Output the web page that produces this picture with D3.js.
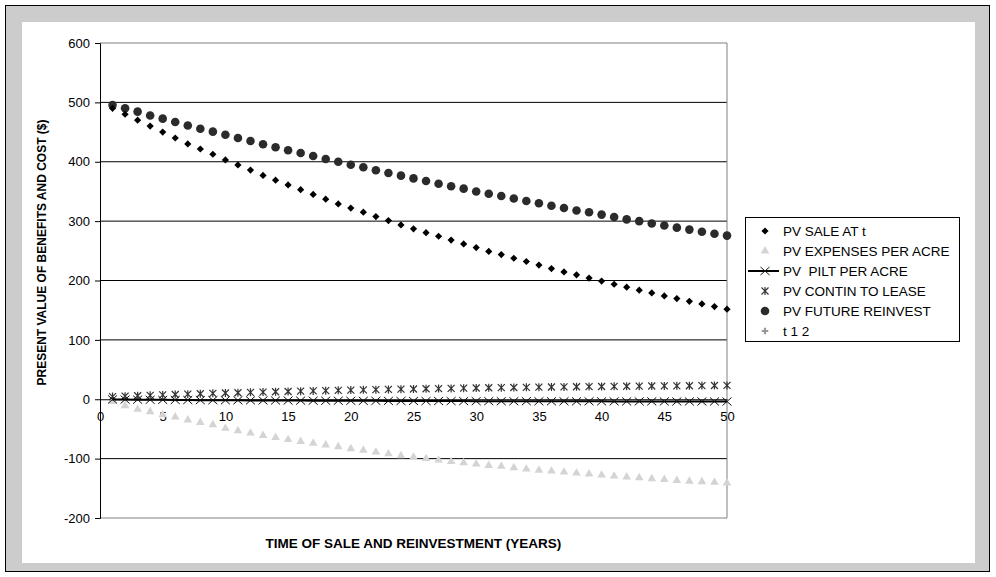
<!DOCTYPE html>
<html>
<head>
<meta charset="utf-8">
<script src="https://cdnjs.cloudflare.com/ajax/libs/d3/7.8.5/d3.min.js"></script>
<style>
  html, body { margin: 0; padding: 0; background: #fff; }
  svg { display: block; }
  text { font-family: "Liberation Sans", Arial, sans-serif; }
</style>
</head>
<body>
<svg id="chart" width="996" height="577"></svg>
<script>
// Years of sale / reinvestment
const years = d3.range(1, 51);

// Present value series ($ per acre)
const pvSale = [490, 480, 470, 460, 450, 440, 430, 421.5, 412.6, 403,
  394.6, 386, 377, 369, 361, 353, 345, 337, 329, 322,
  315, 307.6, 301, 293.6, 287, 280.6, 274.5, 268, 261.6, 255.5,
  249, 243.6, 237.5, 232, 226, 220, 214.5, 209.5, 204, 199,
  193.7, 188.7, 183.7, 179, 174, 169.5, 165, 160.6, 156, 151.7];

const pvExpenses = [-4, -11, -17, -21, -26, -30, -35, -39, -43, -49,
  -53, -57, -61, -64.5, -68, -71, -74, -77, -80, -83.5,
  -86, -89, -92, -95, -97.5, -100, -102.5, -105, -107, -109,
  -111.5, -113, -115.5, -117.7, -119.4, -121, -122.7, -124.4, -126, -127.8,
  -129.5, -131, -132.3, -134, -135, -136.8, -138, -139, -140, -141];

const pvPilt = [-0.3, -0.5, -0.7, -0.9, -1.0, -1.2, -1.3, -1.5, -1.6, -1.7,
  -1.8, -1.9, -2.0, -2.1, -2.2, -2.3, -2.4, -2.5, -2.5, -2.6,
  -2.7, -2.7, -2.8, -2.9, -2.9, -3.0, -3.0, -3.1, -3.1, -3.2,
  -3.2, -3.3, -3.3, -3.3, -3.4, -3.4, -3.4, -3.5, -3.5, -3.5,
  -3.6, -3.6, -3.6, -3.6, -3.7, -3.7, -3.7, -3.7, -3.8, -3.8];

const pvContin = [4.5, 5.2, 5.9, 6.6, 7.3, 8.0, 8.6, 9.3, 9.9, 10.5,
  11.0, 11.6, 12.1, 12.6, 13.1, 13.6, 14.1, 14.5, 15.0, 15.4,
  15.8, 16.2, 16.6, 17.0, 17.3, 17.7, 18.0, 18.3, 18.7, 19.0,
  19.3, 19.5, 19.8, 20.1, 20.3, 20.6, 20.8, 21.0, 21.3, 21.5,
  21.7, 21.9, 22.1, 22.3, 22.5, 22.6, 22.8, 23.0, 23.1, 23.3];

const pvFuture = [495.6, 490, 484.4, 478, 472.6, 467, 461, 455.7, 450.7, 445.6,
  440, 435, 429.5, 424.4, 419.4, 414.8, 409.8, 404.7, 400, 395,
  390.7, 385.6, 381, 376.6, 372, 367.7, 363, 358.7, 354.7, 350,
  346, 342.4, 338, 334, 330, 326, 322, 318, 315, 311,
  307, 303, 300, 296, 292.6, 289, 285.7, 282, 278.7, 275.6];

const seriesNames = ["PV SALE AT t", "PV EXPENSES PER ACRE", "PV  PILT PER ACRE",
  "PV CONTIN TO LEASE", "PV FUTURE REINVEST", "t 1 2"];

const xTicks = d3.range(0, 51, 5);
const yTicks = d3.range(-200, 601, 100);

const svg = d3.select("#chart");

// Outer frame and white chart area
svg.append("rect").attr("x", 5.5).attr("y", 5.5).attr("width", 984).attr("height", 566)
  .attr("fill", "#cccccc").attr("stroke", "#000").attr("stroke-width", 1);
svg.append("rect").attr("x", 22).attr("y", 22).attr("width", 953).attr("height", 541)
  .attr("fill", "#fff");

const plot = { left: 100, right: 727, top: 43, bottom: 518 };
const x = d3.scaleLinear().domain([0, 50]).range([plot.left, plot.right]);
const y = d3.scaleLinear().domain([-200, 600]).range([plot.bottom, plot.top]);

// Horizontal gridlines
svg.append("g").selectAll("line").data(yTicks.filter(v => v !== 0 && v !== 600 && v !== -200))
  .join("line")
  .attr("x1", plot.left).attr("x2", plot.right)
  .attr("y1", d => y(d)).attr("y2", d => y(d))
  .attr("stroke", "#000").attr("stroke-width", 1);

// Plot border (top, right, bottom)
svg.append("path")
  .attr("d", `M${plot.left},${y(600)}H${plot.right}V${y(-200)}H${plot.left}`)
  .attr("fill", "none").attr("stroke", "#808080").attr("stroke-width", 1);

const fontFam = "'Liberation Sans', Arial, sans-serif";

// Y axis
const yAxis = d3.axisLeft(y).tickValues(yTicks).tickSize(5).tickPadding(5)
  .tickFormat(d => String(d));
const gy = svg.append("g").attr("transform", `translate(${plot.left},0)`).call(yAxis);
gy.select(".domain").attr("stroke", "#000");
gy.selectAll(".tick line").attr("stroke", "#000");
gy.selectAll("text").attr("font-size", 13).attr("fill", "#000").attr("font-family", fontFam);

// X axis sits at zero
const xAxis = d3.axisBottom(x).tickValues(xTicks).tickSize(0).tickPadding(13)
  .tickFormat(d => String(d));
const gx = svg.append("g").attr("transform", `translate(0,${y(0)})`).call(xAxis);
gx.select(".domain").attr("stroke", "#000");
gx.selectAll("text").attr("font-size", 13).attr("fill", "#000").attr("font-family", fontFam);

// Axis titles
svg.append("text")
  .attr("x", (plot.left + plot.right) / 2).attr("y", 548)
  .attr("text-anchor", "middle").attr("font-size", 13.5).attr("font-weight", "bold")
  .text("TIME OF SALE AND REINVESTMENT (YEARS)");
svg.append("text")
  .attr("transform", `translate(46,${(plot.top + plot.bottom) / 2 - 28}) rotate(-90)`)
  .attr("text-anchor", "middle").attr("font-size", 12).attr("font-weight", "bold")
  .text("PRESENT VALUE OF BENEFITS AND COST ($)");

// Marker shapes
const diamond = d3.symbol().type(d3.symbolSquare).size(26)();
const circle = d3.symbol().type(d3.symbolCircle).size(58)();
const triangle = d3.symbol().type(d3.symbolTriangle).size(32)();
const cross = d3.symbol().type(d3.symbolCross).size(30)();
const xMark = "M-4.5,-4L4.5,4M-4.5,4L4.5,-4";
const star = "M-3.5,-3.5L3.5,3.5M-3.5,3.5L3.5,-3.5M0,-4V4";

const pts = vals => years.map((t, i) => ({ t, v: vals[i] }));

// PV EXPENSES PER ACRE — light grey triangles
svg.append("g").selectAll("path").data(pts(pvExpenses)).join("path")
  .attr("d", triangle).attr("fill", "#d4d4d4")
  .attr("transform", d => `translate(${x(d.t)},${y(d.v)})`);

// PV CONTIN TO LEASE — stars
svg.append("g").selectAll("path").data(pts(pvContin)).join("path")
  .attr("d", star).attr("fill", "none").attr("stroke", "#333").attr("stroke-width", 1.2)
  .attr("transform", d => `translate(${x(d.t)},${y(d.v)})`);

// PV PILT PER ACRE — line with x markers
svg.append("path").datum(pts(pvPilt))
  .attr("d", d3.line().x(d => x(d.t)).y(d => y(d.v)))
  .attr("fill", "none").attr("stroke", "#000").attr("stroke-width", 2);
svg.append("g").selectAll("path").data(pts(pvPilt)).join("path")
  .attr("d", xMark).attr("fill", "none").attr("stroke", "#111").attr("stroke-width", 1)
  .attr("transform", d => `translate(${x(d.t)},${y(d.v)})`);

// PV FUTURE REINVEST — dark circles
svg.append("g").selectAll("path").data(pts(pvFuture)).join("path")
  .attr("d", circle).attr("fill", "#2b2b2b")
  .attr("transform", d => `translate(${x(d.t)},${y(d.v)})`);

// PV SALE AT t — black diamonds
svg.append("g").selectAll("path").data(pts(pvSale)).join("path")
  .attr("d", diamond).attr("fill", "#000")
  .attr("transform", d => `translate(${x(d.t)},${y(d.v)}) rotate(45)`);

// Legend
const lg = svg.append("g").attr("transform", "translate(745,217)");
lg.append("rect").attr("x", 0.5).attr("y", 0.5).attr("width", 214).attr("height", 124)
  .attr("fill", "#fff").attr("stroke", "#000").attr("stroke-width", 1);
const rowY = i => 14 + i * 20;
const mx = 20;
lg.append("path").attr("d", diamond).attr("fill", "#000")
  .attr("transform", `translate(${mx},${rowY(0)}) rotate(45)`);
lg.append("path").attr("d", triangle).attr("fill", "#d4d4d4")
  .attr("transform", `translate(${mx},${rowY(1)})`);
lg.append("line").attr("x1", 3).attr("x2", 34).attr("y1", rowY(2)).attr("y2", rowY(2))
  .attr("stroke", "#000").attr("stroke-width", 2);
lg.append("path").attr("d", xMark).attr("fill", "none").attr("stroke", "#111")
  .attr("transform", `translate(${mx},${rowY(2)})`);
lg.append("path").attr("d", star).attr("fill", "none").attr("stroke", "#333").attr("stroke-width", 1.2)
  .attr("transform", `translate(${mx},${rowY(3)})`);
lg.append("path").attr("d", circle).attr("fill", "#2b2b2b")
  .attr("transform", `translate(${mx},${rowY(4)})`);
lg.append("path").attr("d", cross).attr("fill", "#999")
  .attr("transform", `translate(${mx},${rowY(5)}) scale(0.9)`);
lg.selectAll("text.lab").data(seriesNames).join("text").attr("class", "lab")
  .attr("x", 38).attr("y", (d, i) => rowY(i) + 5)
  .attr("font-size", 13.5).attr("fill", "#000")
  .style("white-space", "pre")
  .text(d => d);
</script>
</body>
</html>
